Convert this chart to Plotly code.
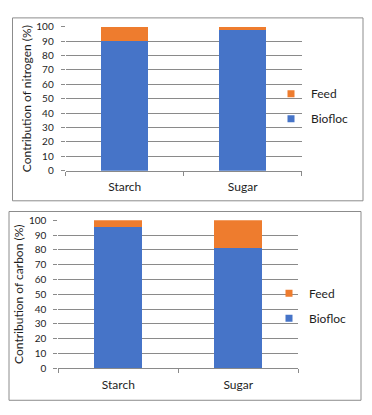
import plotly.graph_objects as go

categories = ["Starch", "Sugar"]
nitrogen_biofloc = [90, 98]
nitrogen_feed = [10, 2]
carbon_biofloc = [95.5, 81]
carbon_feed = [4.5, 19]
y_tick_vals = list(range(0, 101, 10))
series_names = ["Biofloc", "Feed"]

OFF = 8  # page body margin of the browser
W, H = 372 - OFF, 415 - OFF
BLUE = "#4674C8"
ORANGE = "#EE7C2E"
GRID = "#8a8a8a"
TXT = "#1e1e1e"
FONT = "Lato"


def px_x(v):
    return (v - OFF) / W


def px_y(v):
    return 1 - (v - OFF) / H


fig = go.Figure()

# top panel (nitrogen)
fig.add_trace(go.Bar(x=categories, y=nitrogen_biofloc, name=series_names[0], marker=dict(color=BLUE, line_width=0),
                     xaxis="x", yaxis="y", showlegend=False))
fig.add_trace(go.Bar(x=categories, y=nitrogen_feed, name=series_names[1], marker=dict(color=ORANGE, line_width=0),
                     xaxis="x", yaxis="y", showlegend=False))
# bottom panel (carbon)
fig.add_trace(go.Bar(x=categories, y=carbon_biofloc, name=series_names[0], marker=dict(color=BLUE, line_width=0),
                     xaxis="x2", yaxis="y2", showlegend=False))
fig.add_trace(go.Bar(x=categories, y=carbon_feed, name=series_names[1], marker=dict(color=ORANGE, line_width=0),
                     xaxis="x2", yaxis="y2", showlegend=False))

# legend entries (small square swatches like the original)
for lg, xa, ya in [("legend", "x", "y"), ("legend2", "x2", "y2")]:
    for nm, col in [(series_names[1], ORANGE), (series_names[0], BLUE)]:
        fig.add_trace(go.Scatter(x=[None], y=[None], mode="markers", name=nm,
                                 marker=dict(symbol="square", size=7, color=col),
                                 xaxis=xa, yaxis=ya, legend=lg, legendgroup=lg + nm,
                                 showlegend=True))

xcommon = dict(type="category", showgrid=False, showline=True, linecolor=GRID, linewidth=1,
               ticks="outside", tickson="boundaries", ticklen=4, tickcolor=GRID,
               tickfont=dict(family=FONT, size=12, color=TXT), ticklabelstandoff=5,
               zeroline=False, fixedrange=True)
ycommon = dict(range=[0, 100], tickvals=y_tick_vals, showgrid=True, gridcolor=GRID, gridwidth=1,
               showline=False, ticks="outside", ticklen=4, tickcolor=GRID, ticklabelstandoff=5,
               tickfont=dict(family=FONT, size=10, color=TXT), zeroline=False, fixedrange=True)

fig.update_layout(
    width=W, height=H,
    margin=dict(l=0, r=0, t=0, b=0),
    paper_bgcolor="white", plot_bgcolor="white",
    barmode="stack", bargap=0.6,
    font=dict(family=FONT, color=TXT),
    xaxis=dict(domain=[px_x(65.7), px_x(301.7)], anchor="y", **xcommon),
    yaxis=dict(domain=[px_y(169), px_y(21)], anchor="x",
               title=dict(text="Contribution of nitrogen (%)", font=dict(family=FONT, size=12, color=TXT),
                          standoff=2),
               **ycommon),
    xaxis2=dict(domain=[px_x(58.3), px_x(298.3)], anchor="y2", **xcommon),
    yaxis2=dict(domain=[px_y(372), px_y(220)], anchor="x2",
                title=dict(text="Contribution of carbon (%)", font=dict(family=FONT, size=12, color=TXT),
                           standoff=2),
                **ycommon),
    legend=dict(x=px_x(271), y=px_y(75), xanchor="left", yanchor="top", bgcolor="rgba(0,0,0,0)",
                traceorder="grouped", tracegroupgap=6, font=dict(family=FONT, size=12, color=TXT),
                itemwidth=30),
    legend2=dict(x=px_x(269), y=px_y(280), xanchor="left", yanchor="top", bgcolor="rgba(0,0,0,0)",
                 traceorder="grouped", tracegroupgap=6, font=dict(family=FONT, size=12, color=TXT),
                 itemwidth=30),
    shapes=[
        dict(type="rect", xref="paper", yref="paper", x0=px_x(12.5), x1=px_x(363), y0=px_y(200), y1=px_y(12),
             line=dict(color="#8c8c8c", width=1), fillcolor="rgba(0,0,0,0)", layer="below"),
        dict(type="rect", xref="paper", yref="paper", x0=px_x(9), x1=px_x(361), y0=px_y(405), y1=px_y(211),
             line=dict(color="#8c8c8c", width=1), fillcolor="rgba(0,0,0,0)", layer="below"),
    ],
)

fig.write_html("out.html")
